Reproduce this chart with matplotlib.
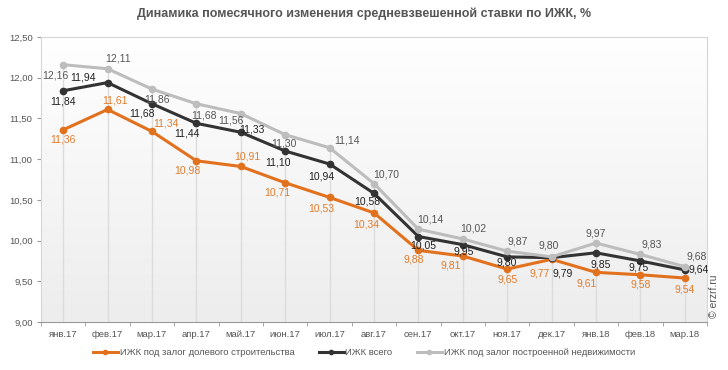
import numpy as np
import matplotlib.pyplot as plt
from matplotlib.colors import LinearSegmentedColormap

# months (categories)
months = ['янв.17', 'фев.17', 'мар.17', 'апр.17', 'май.17', 'июн.17', 'июл.17', 'авг.17',
          'сен.17', 'окт.17', 'ноя.17', 'дек.17', 'янв.18', 'фев.18', 'мар.18']

# weighted average rates, %
shared = [11.36, 11.61, 11.34, 10.98, 10.91, 10.71, 10.53, 10.34, 9.88, 9.81, 9.65, 9.77, 9.61, 9.58, 9.54]
total = [11.84, 11.94, 11.68, 11.44, 11.33, 11.10, 10.94, 10.58, 10.05, 9.95, 9.80, 9.79, 9.85, 9.75, 9.64]
built = [12.16, 12.11, 11.86, 11.68, 11.56, 11.30, 11.14, 10.70, 10.14, 10.02, 9.87, 9.80, 9.97, 9.83, 9.68]

# label offsets in pixels (dx, dy), dy positive = down
off_shared = [(0, 10), (7, -9), (14, -8), (-9, 10), (7, -10), (-8, 10), (-8, 11), (-8, 12),
              (-5, 9), (-12, 9), (0, 10), (-12, 14), (-9, 11), (0, 10), (0, 11)]
off_total = [(0, 11), (-25, -5), (-10, 10), (-9, 10), (11, -3), (-7, 11), (-8, 12), (-7, 8),
             (5, 9), (1, 7), (0, 6), (11, 16), (5, 12), (-2, 7), (14, 0)]
off_built = [(-8, 11), (10, -10), (5, 10), (8, 12), (-10, 7), (-1, 9), (17, -7), (12, -9),
             (12, -10), (10, -10), (11, -10), (-3, -11), (0, -10), (11, -10), (12, -10)]

c_orange = '#e2711d'
c_black = '#333333'
c_gray = '#bdbdbd'

plt.rcParams['font.family'] = ['Liberation Sans', 'DejaVu Sans']

fig = plt.figure(figsize=(7.28, 3.70), dpi=100)
ax = fig.add_axes([0.0563, 0.1297, 0.9148, 0.7703])

x = np.arange(len(months))

# background gradient
grad = np.linspace(0, 1, 256).reshape(-1, 1)
ax.imshow(grad, extent=[-0.5, len(months) - 0.5, 9, 12.5], aspect='auto',
          cmap=LinearSegmentedColormap.from_list('bg', ['#ffffff', '#ededed']),
          origin='upper', zorder=0)

# drop lines from highest point
tops = np.maximum(np.maximum(shared, total), built)
ax.vlines(x, 9, tops, color='#dcdcdc', lw=1, zorder=1)

ax.plot(x, shared, color=c_orange, lw=2.2, marker='o', ms=4.5, zorder=3,
        label='ИЖК под залог долевого строительства')
ax.plot(x, total, color=c_black, lw=2.2, marker='o', ms=4.5, zorder=4, label='ИЖК всего')
ax.plot(x, built, color=c_gray, lw=2.2, marker='o', ms=4.5, zorder=5,
        label='ИЖК под залог построенной недвижимости')

def fmt(v):
    return f'{v:.2f}'.replace('.', ',')

for vals, offs, col in [(shared, off_shared, '#e07b2a'), (total, off_total, '#222222'),
                        (built, off_built, '#555555')]:
    for i, (v, (dx, dy)) in enumerate(zip(vals, offs)):
        ax.annotate(fmt(v), (x[i], v), xytext=(dx * 0.72, -dy * 0.72), textcoords='offset points',
                    ha='center', va='center', fontsize=7.5, color=col, zorder=6)

ax.set_xlim(-0.5, len(months) - 0.5)
ax.set_ylim(9, 12.5)
ax.set_yticks(np.arange(9, 12.51, 0.5))
ax.set_yticklabels([fmt(v) for v in np.arange(9, 12.51, 0.5)], fontsize=6.8, color='#555555')
ax.set_xticks(x)
ax.set_xticklabels(months, fontsize=6.8, color='#555555')
ax.set_xticks(np.arange(-0.5, len(months), 1), minor=True)
ax.tick_params(axis='x', which='major', length=0, pad=6)
ax.tick_params(axis='x', which='minor', length=3, color='#999999')
ax.tick_params(axis='y', length=3, color='#999999', pad=3)

for s in ['top', 'right', 'left']:
    ax.spines[s].set_color('#d6d6d6')
ax.spines['bottom'].set_color('#999999')

fig.text(0.5, 0.962, 'Динамика помесячного изменения средневзвешенной ставки по ИЖК, %',
         ha='center', va='center', fontsize=9.0, fontweight='bold', color='#555555')

leg = fig.legend(loc='center', bbox_to_anchor=(0.5, 0.047), ncol=3, frameon=False,
                 handlelength=2.6, handletextpad=0.2, columnspacing=2.6,
                 prop={'size': 6.8})
for h in leg.legend_handles:
    h.set_markersize(3)
for t in leg.get_texts():
    t.set_color('#555555')

fig.text(0.981, 0.2, '© erzrf.ru', rotation=90, ha='center', va='center', fontsize=7.5, color='#555555')

fig.savefig('out.png', dpi=100)
